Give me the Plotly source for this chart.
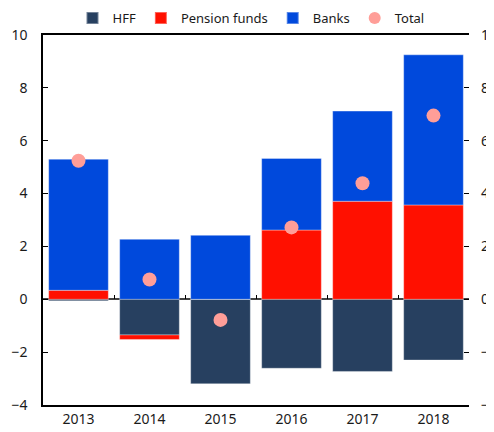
import plotly.graph_objects as go

years = ['2013', '2014', '2015', '2016', '2017', '2018']
hff = [-0.06, -1.35, -3.20, -2.61, -2.73, -2.30]
pension_funds = [0.34, -0.17, 0.0, 2.62, 3.71, 3.57]
banks = [4.96, 2.27, 2.42, 2.71, 3.41, 5.68]
total = [5.24, 0.75, -0.78, 2.72, 4.39, 6.95]

font = dict(family='Noto Sans, Open Sans, sans-serif', size=14, color='#1a1a1a')
edge = dict(color='rgba(255,255,255,0.35)', width=1)

fig = go.Figure()
fig.add_trace(go.Bar(x=years, y=hff, name='HFF', marker=dict(color='#274060', line=edge)))
fig.add_trace(go.Bar(x=years, y=pension_funds, name='Pension funds', marker=dict(color='#ff1000', line=edge)))
fig.add_trace(go.Bar(x=years, y=banks, name='Banks', marker=dict(color='#0049dc', line=edge)))
fig.add_trace(go.Scatter(x=years, y=total, name='Total', mode='markers',
                         marker=dict(color='#ff9e98', size=14)))
# invisible trace so the mirrored axes get drawn
fig.add_trace(go.Scatter(x=years, y=total, xaxis='x2', yaxis='y2', mode='markers',
                         marker=dict(opacity=0), showlegend=False, hoverinfo='skip'))

# page body has an 8px margin, so the figure is 8px smaller each way
fig.update_layout(
    width=486, height=424,
    barmode='relative',
    bargap=0.16,
    font=font,
    plot_bgcolor='white',
    paper_bgcolor='white',
    margin=dict(l=35, r=25, t=27, b=27, autoexpand=False),
    showlegend=True,
    legend=dict(orientation='h', x=0.5, xanchor='center', xref='container',
                y=1 - 10 / 424, yanchor='middle', yref='container',
                font=dict(size=13), traceorder='normal', itemsizing='constant'),
    xaxis=dict(showline=True, linecolor='black', linewidth=1.5, mirror=True,
               ticks='', showgrid=False, zeroline=False, automargin=False),
    xaxis2=dict(overlaying='x', matches='x', anchor='free', position=4 / 14,
                showline=False, ticks='inside', ticklen=4, tickcolor='black',
                tickson='boundaries', showticklabels=False, showgrid=False,
                automargin=False),
    yaxis=dict(range=[-4, 10], dtick=2, ticks='inside', ticklen=5, tickcolor='black',
               ticklabelstandoff=11,
               showline=True, linecolor='black', linewidth=1.5, showgrid=False,
               zeroline=True, zerolinecolor='#444', zerolinewidth=2, automargin=False),
    yaxis2=dict(overlaying='y', matches='y', side='right', range=[-4, 10], dtick=2,
                ticks='inside', ticklen=5, tickcolor='black', ticklabelstandoff=11,
                showgrid=False, zeroline=False, showline=False, automargin=False),
)

fig.write_html('out.html')
